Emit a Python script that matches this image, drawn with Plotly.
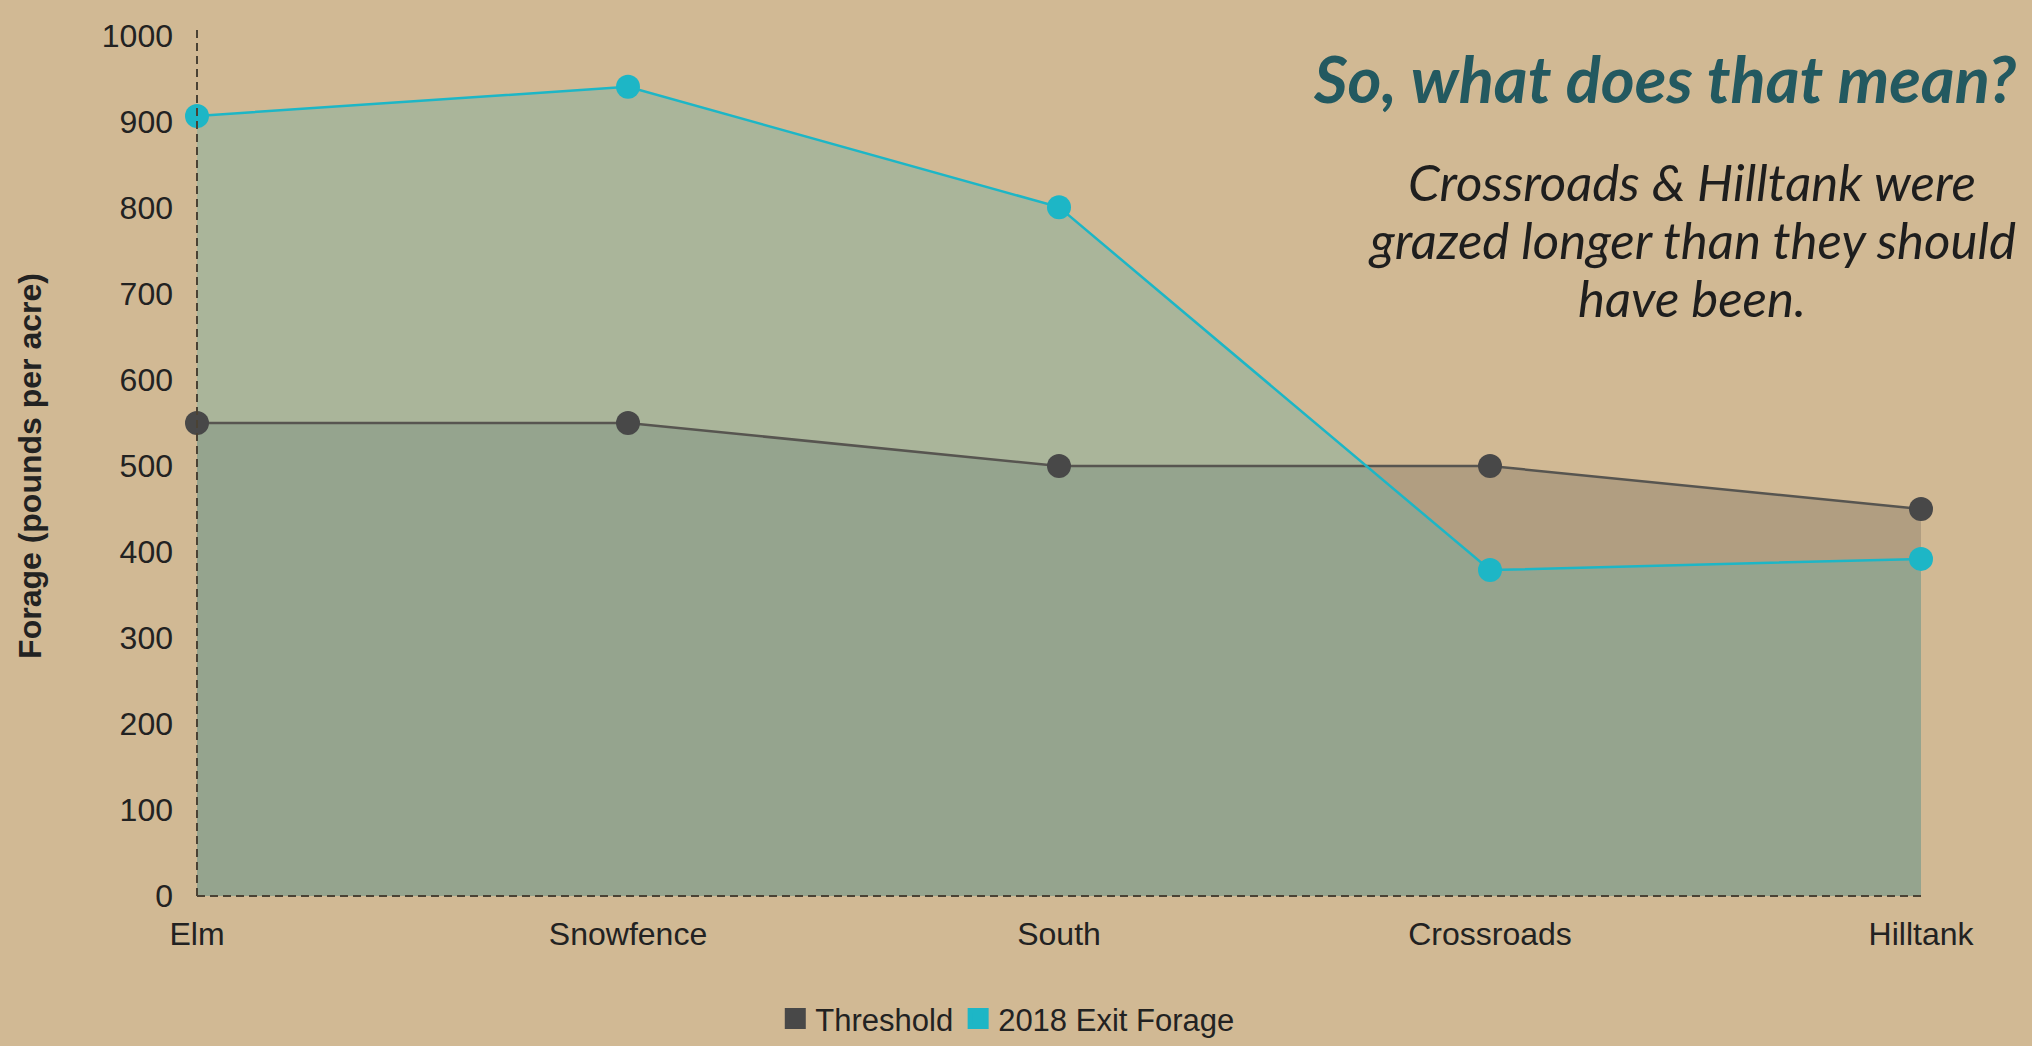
import plotly.graph_objects as go

categories = ["Elm", "Snowfence", "South", "Crossroads", "Hilltank"]
threshold = [550, 550, 500, 500, 450]
exit_forage = [907, 941, 801, 379, 392]
y_ticks = [0, 100, 200, 300, 400, 500, 600, 700, 800, 900, 1000]
subtitle_lines = ["Crossroads &amp; Hilltank were", "grazed longer than they should", "have been."]

BG = "#D1B994"
DARK = "#484848"
CYAN = "#1DB6C6"
FONT = "Arial, Liberation Sans, sans-serif"

fig = go.Figure()

# area fills (under all lines and markers)
fig.add_trace(go.Scatter(
    x=categories, y=threshold, mode="none", fill="tozeroy",
    fillcolor="rgba(60,60,60,0.21)", showlegend=False, hoverinfo="skip",
))
fig.add_trace(go.Scatter(
    x=categories, y=exit_forage, mode="none", fill="tozeroy",
    fillcolor="rgba(97,176,166,0.35)", showlegend=False, hoverinfo="skip",
))
# lines and markers
fig.add_trace(go.Scatter(
    x=categories, y=threshold, mode="lines+markers", name="Threshold",
    line=dict(color="#575550", width=2.5),
    marker=dict(color=DARK, size=24),
    showlegend=False, cliponaxis=False,
))
fig.add_trace(go.Scatter(
    x=categories, y=exit_forage, mode="lines+markers", name="2018 Exit Forage",
    line=dict(color=CYAN, width=2.5),
    marker=dict(color=CYAN, size=24),
    showlegend=False, cliponaxis=False,
))
# legend swatches
fig.add_trace(go.Scatter(x=[None], y=[None], mode="markers", name="Threshold",
                         marker=dict(color=DARK, size=16, symbol="square",
                                     line=dict(color=DARK, width=5))))
fig.add_trace(go.Scatter(x=[None], y=[None], mode="markers", name="2018 Exit Forage",
                         marker=dict(color=CYAN, size=16, symbol="square",
                                     line=dict(color=CYAN, width=5))))

# dashed axis lines
fig.add_shape(type="line", xref="x domain", yref="y domain", x0=0, x1=0, y0=0, y1=1.01,
              line=dict(color="#4a4234", width=2, dash="8px,5px"))
fig.add_shape(type="line", xref="x domain", yref="y domain", x0=0, x1=1, y0=0, y1=0,
              line=dict(color="#4a4234", width=2, dash="8px,5px"))

fig.add_annotation(text="<b><i>So, what does that mean?</i></b>", xref="paper", yref="paper",
                   x=1.0562, y=0.951, xanchor="right", yanchor="middle", showarrow=False,
                   font=dict(family="Lato", size=65, color="#235960"))
sub_y = [0.8306, 0.7631, 0.6957]
for line, yy in zip(subtitle_lines, sub_y):
    fig.add_annotation(text="<i>" + line + "</i>", xref="paper", yref="paper",
                       x=0.867, y=yy, xanchor="center", yanchor="middle",
                       showarrow=False, font=dict(family="Lato", size=51, color="#1e1e1e"))

fig.update_layout(
    width=2032, height=1046,
    paper_bgcolor=BG, plot_bgcolor=BG,
    margin=dict(l=197, r=111, t=36, b=150, autoexpand=False),
    font=dict(family=FONT, color="#222222"),
    legend=dict(orientation="h", x=0.47, xref="paper", y=0.026, yref="container",
                xanchor="center", yanchor="middle",
                font=dict(size=31, family=FONT, color="#222222"), itemsizing="trace",
                bgcolor="rgba(0,0,0,0)", itemwidth=30),
    xaxis=dict(type="category", categoryorder="array", categoryarray=categories,
               range=[0, 4], showgrid=False, zeroline=False, showline=False, automargin=False,
               tickfont=dict(size=32, family=FONT, color="#222222"), ticks="",
               ticklabelstandoff=16),
    yaxis=dict(range=[0, 1000], tickvals=y_ticks, showgrid=False, zeroline=False, showline=False,
               automargin=False,
               tickfont=dict(size=32, family=FONT, color="#222222"), ticks="",
               ticklabelstandoff=23,
               title=dict(text="<b>Forage (pounds per acre)</b>", standoff=50,
                          font=dict(size=32, family=FONT, color="#222222"))),
)

fig.write_html("out.html", config={"displayModeBar": False},
               post_script="document.body.style.margin='0';document.body.style.overflow='hidden';")
